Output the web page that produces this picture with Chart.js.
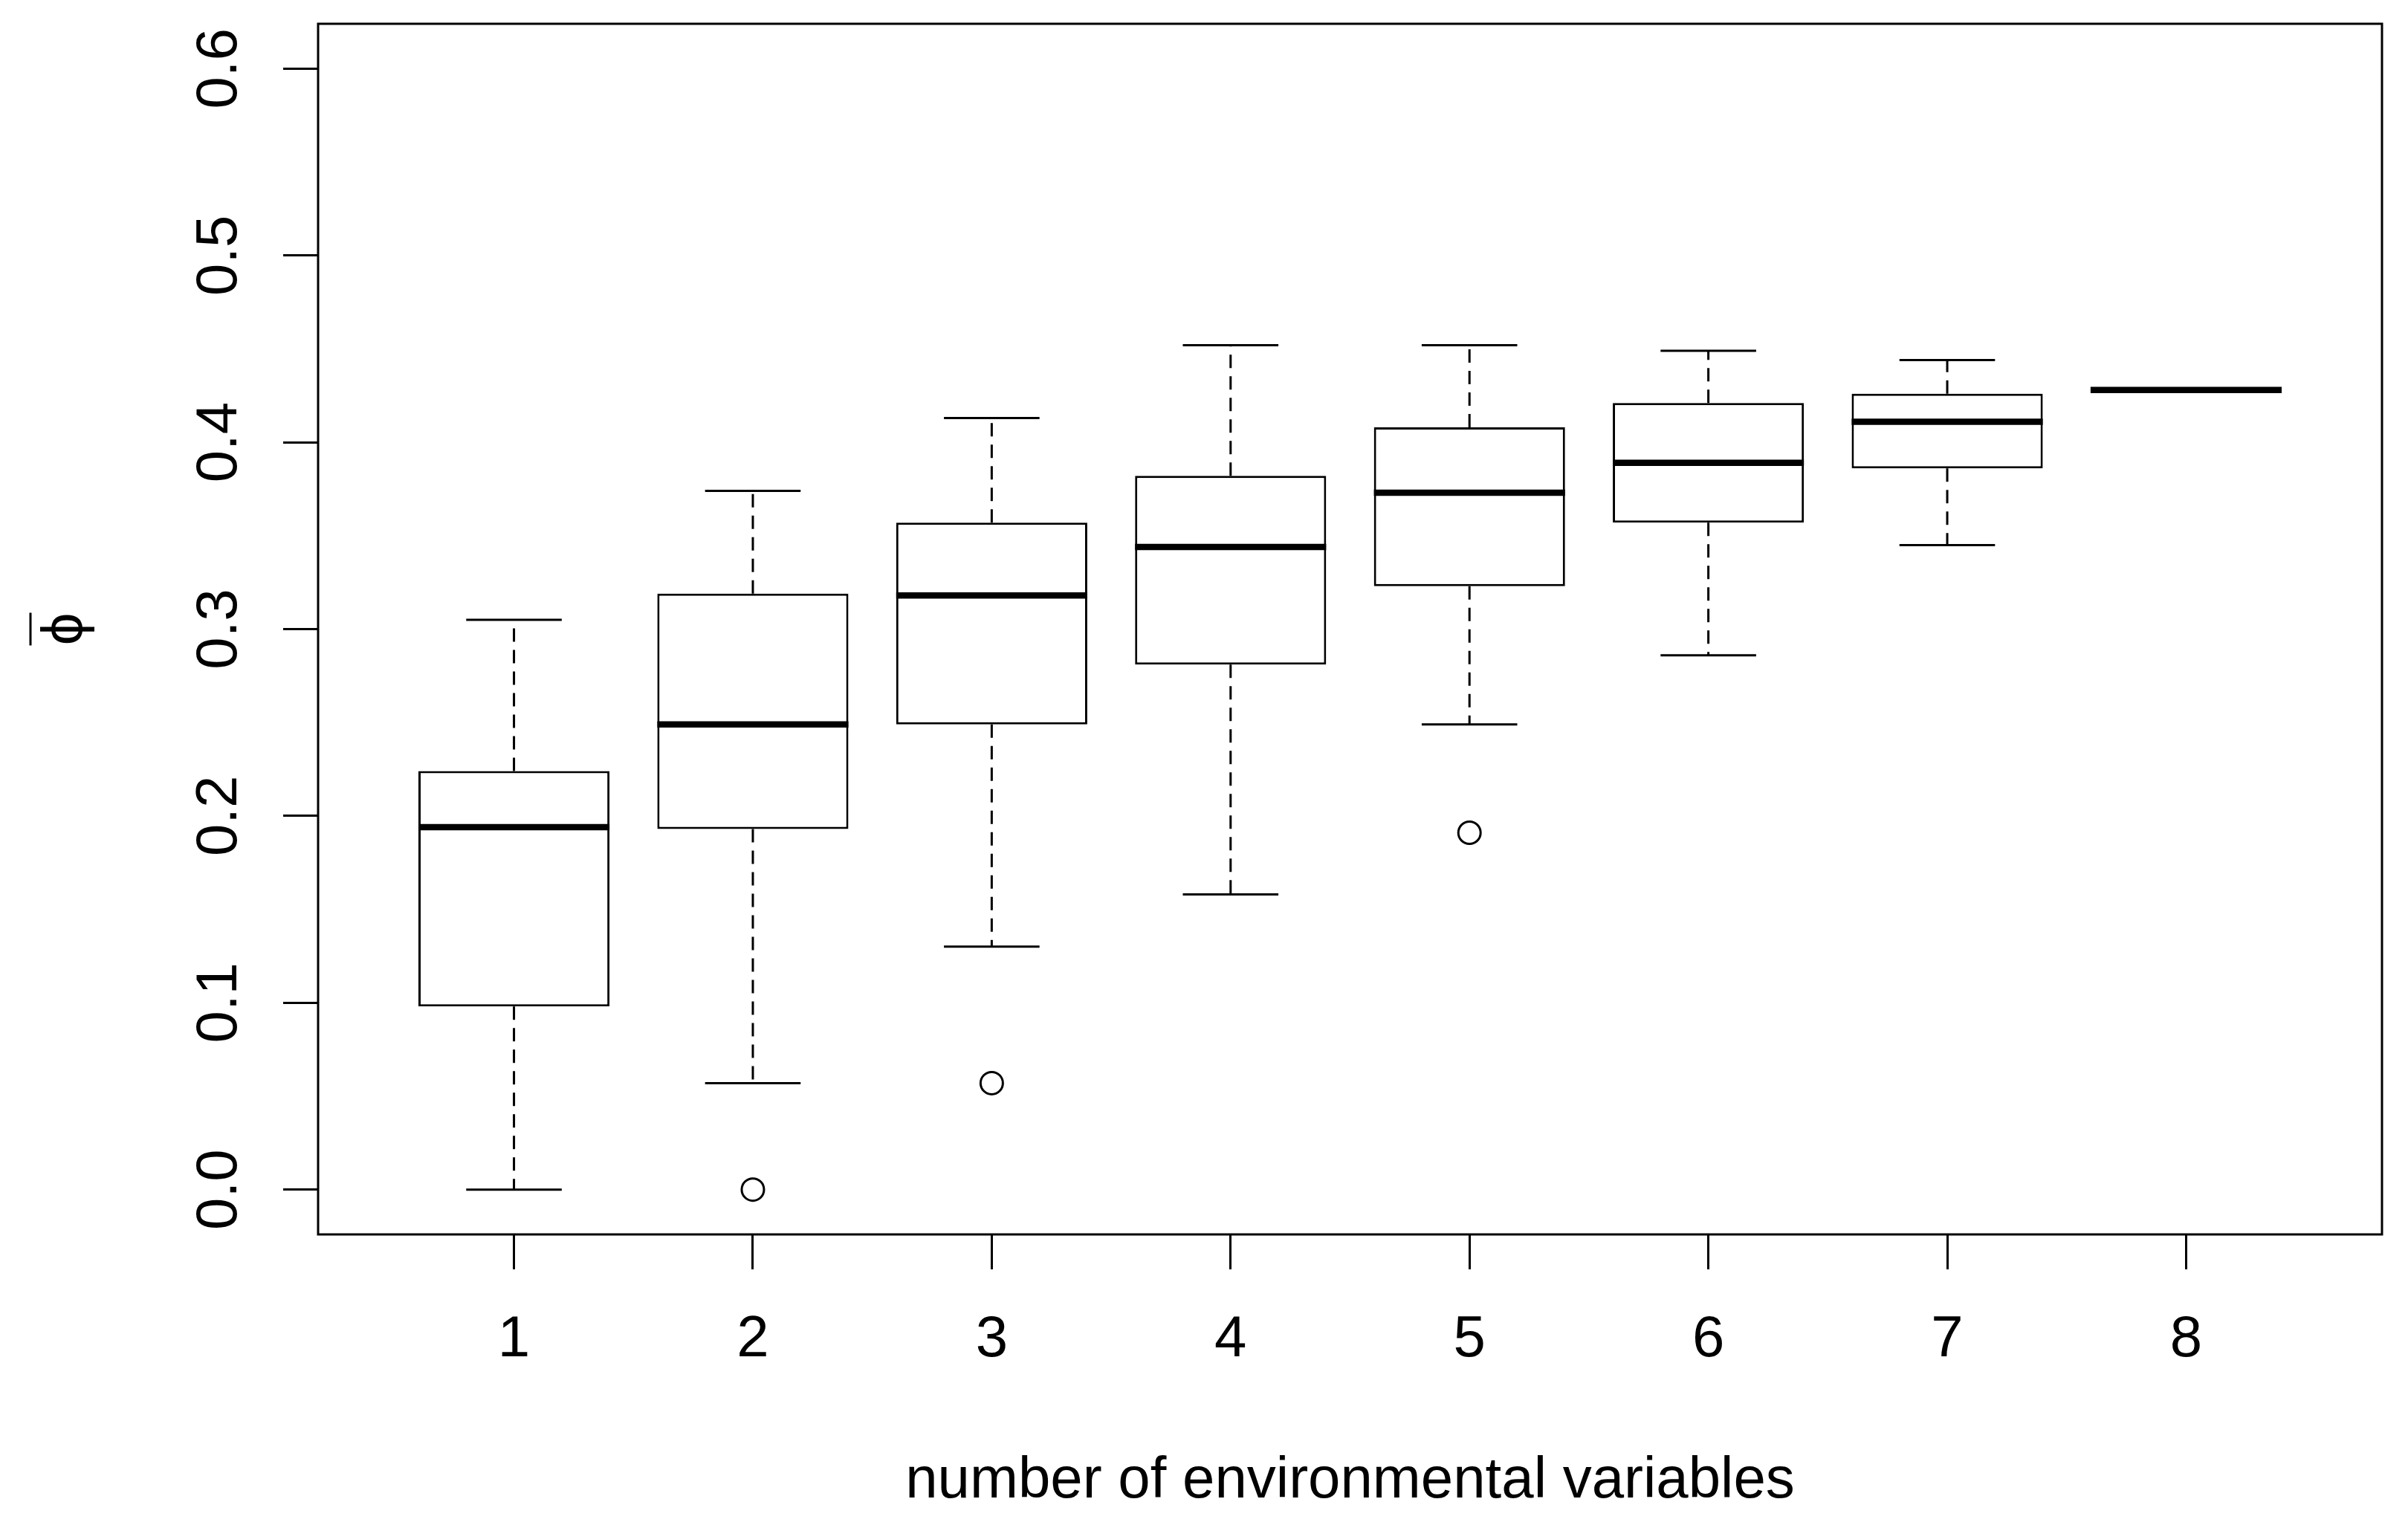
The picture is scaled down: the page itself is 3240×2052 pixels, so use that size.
<!DOCTYPE html>
<html>
<head>
<meta charset="utf-8">
<script src="https://cdn.jsdelivr.net/npm/chart.js@4.4.1/dist/chart.umd.min.js"></script>
<style>
  html, body { margin: 0; padding: 0; background: #fff; }
  canvas { display: block; }
</style>
</head>
<body>
<canvas id="box-chart" width="3240" height="2052"></canvas>
<script>
// values, one entry per number of variables
const categories = [1, 2, 3, 4, 5, 6, 7, 8];
const upperWhisker = [0.305, 0.374, 0.413, 0.452, 0.452, 0.449, 0.444, 0.428];
const upperQuartile = [0.224, 0.319, 0.357, 0.382, 0.408, 0.421, 0.426, 0.428];
const medians = [0.194, 0.249, 0.318, 0.344, 0.373, 0.389, 0.411, 0.428];
const lowerQuartile = [0.098, 0.193, 0.249, 0.281, 0.323, 0.357, 0.386, 0.428];
const lowerWhisker = [0.000, 0.057, 0.130, 0.158, 0.249, 0.286, 0.345, 0.428];

// open circles beyond the whiskers
const outlierX = [2, 3, 5];
const outlierY = [0.000, 0.057, 0.191];

const yTickValues = [0, 0.1, 0.2, 0.3, 0.4, 0.5, 0.6];
const yTickLabels = ['0.0', '0.1', '0.2', '0.3', '0.4', '0.5', '0.6'];
const xTitle = 'number of environmental variables';
const yTitle = 'ϕ';   // drawn with a bar over it (mean phi)

const FONT = '"Liberation Sans", Arial, sans-serif';
const FONT_SIZE = 78;

// whiskers, medians, frame and rotated y labels (R style)
const boxPlotLines = {
    id: 'boxPlotLines',
    beforeDatasetsDraw(chart) {
        const ctx = chart.ctx;
        const x = chart.scales.x;
        const y = chart.scales.y;
        ctx.save();
        ctx.strokeStyle = '#000';
        ctx.lineWidth = 3;
        categories.forEach((c, i) => {
            const cx = x.getPixelForValue(c);
            const capL = x.getPixelForValue(c - 0.2);
            const capR = x.getPixelForValue(c + 0.2);
            // dashed stems
            ctx.setLineDash([18, 11]);
            ctx.beginPath();
            ctx.moveTo(cx, y.getPixelForValue(upperQuartile[i]));
            ctx.lineTo(cx, y.getPixelForValue(upperWhisker[i]));
            ctx.moveTo(cx, y.getPixelForValue(lowerQuartile[i]));
            ctx.lineTo(cx, y.getPixelForValue(lowerWhisker[i]));
            ctx.stroke();
            // caps
            ctx.setLineDash([]);
            ctx.beginPath();
            ctx.moveTo(capL, y.getPixelForValue(upperWhisker[i]));
            ctx.lineTo(capR, y.getPixelForValue(upperWhisker[i]));
            ctx.moveTo(capL, y.getPixelForValue(lowerWhisker[i]));
            ctx.lineTo(capR, y.getPixelForValue(lowerWhisker[i]));
            ctx.stroke();
        });
        ctx.restore();
    },
    afterDatasetsDraw(chart) {
        const ctx = chart.ctx;
        const x = chart.scales.x;
        const y = chart.scales.y;
        ctx.save();
        ctx.strokeStyle = '#000';
        ctx.lineWidth = 8.5;
        ctx.lineCap = 'butt';
        categories.forEach((c, i) => {
            const py = y.getPixelForValue(medians[i]);
            ctx.beginPath();
            ctx.moveTo(x.getPixelForValue(c - 0.4), py);
            ctx.lineTo(x.getPixelForValue(c + 0.4), py);
            ctx.stroke();
        });
        ctx.restore();
    },
    afterDraw(chart) {
        const ctx = chart.ctx;
        const area = chart.chartArea;
        const y = chart.scales.y;
        ctx.save();
        ctx.strokeStyle = '#000';
        ctx.lineWidth = 3;
        ctx.strokeRect(area.left, area.top, area.right - area.left, area.bottom - area.top);

        // bar over the phi in the y title (sits to its left once rotated)
        const midY = (area.top + area.bottom) / 2;
        ctx.beginPath();
        ctx.moveTo(y.left + 41, midY - 22);
        ctx.lineTo(y.left + 41, midY + 22);
        ctx.stroke();

        ctx.fillStyle = '#000';
        ctx.font = FONT_SIZE + 'px ' + FONT;
        ctx.textAlign = 'center';
        ctx.textBaseline = 'alphabetic';
        yTickValues.forEach((v, i) => {
            ctx.save();
            ctx.translate(318, y.getPixelForValue(v));
            ctx.rotate(-Math.PI / 2);
            ctx.fillText(yTickLabels[i], 0, 0);
            ctx.restore();
        });
        ctx.restore();
    }
};

const ctx = document.getElementById('box-chart').getContext('2d');

new Chart(ctx, {
    type: 'bar',
    data: {
        datasets: [{
            type: 'bar',
            label: 'box',
            data: categories.map((c, i) => ({ x: c, y: [lowerQuartile[i], upperQuartile[i]] })),
            backgroundColor: '#fff',
            borderColor: '#000',
            borderWidth: 3,
            borderSkipped: false,
            barPercentage: 0.8,
            categoryPercentage: 1.0
        }, {
            type: 'scatter',
            label: 'outliers',
            data: outlierX.map((v, i) => ({ x: v, y: outlierY[i] })),
            pointStyle: 'circle',
            pointRadius: 15,
            pointBackgroundColor: 'rgba(0,0,0,0)',
            pointBorderColor: '#000',
            pointBorderWidth: 3
        }]
    },
    options: {
        responsive: false,
        animation: false,
        devicePixelRatio: 1,
        layout: { padding: { top: 32, right: 35, left: 0, bottom: 0 } },
        plugins: {
            legend: { display: false },
            tooltip: { enabled: false }
        },
        scales: {
            x: {
                type: 'linear',
                min: 0.18,
                max: 8.82,
                offset: false,
                afterBuildTicks: scale => { scale.ticks = categories.map(v => ({ value: v })); },
                afterFit: scale => { scale.height = 391; },
                border: { display: false },
                grid: {
                    offset: false,
                    drawOnChartArea: false,
                    drawTicks: true,
                    tickLength: 47,
                    tickWidth: 3,
                    tickColor: '#000'
                },
                ticks: {
                    color: '#000',
                    padding: 49,
                    maxRotation: 0,
                    font: { family: FONT, size: FONT_SIZE },
                    callback: v => String(v)
                },
                title: {
                    display: true,
                    text: xTitle,
                    color: '#000',
                    font: { family: FONT, size: FONT_SIZE, lineHeight: 1.2 },
                    padding: { top: 12, bottom: 12 }
                }
            },
            y: {
                type: 'linear',
                min: -0.024,
                max: 0.624,
                afterBuildTicks: scale => { scale.ticks = yTickValues.map(v => ({ value: v })); },
                afterFit: scale => { scale.width = 428; },
                border: { display: false },
                grid: {
                    drawOnChartArea: false,
                    drawTicks: true,
                    tickLength: 47,
                    tickWidth: 3,
                    tickColor: '#000'
                },
                ticks: { display: false },
                title: {
                    display: true,
                    text: yTitle,
                    color: '#000',
                    font: { family: FONT, size: FONT_SIZE, lineHeight: 1.2 },
                    padding: { top: 43, bottom: 0 }
                }
            }
        }
    },
    plugins: [boxPlotLines]
});
</script>
</body>
</html>
